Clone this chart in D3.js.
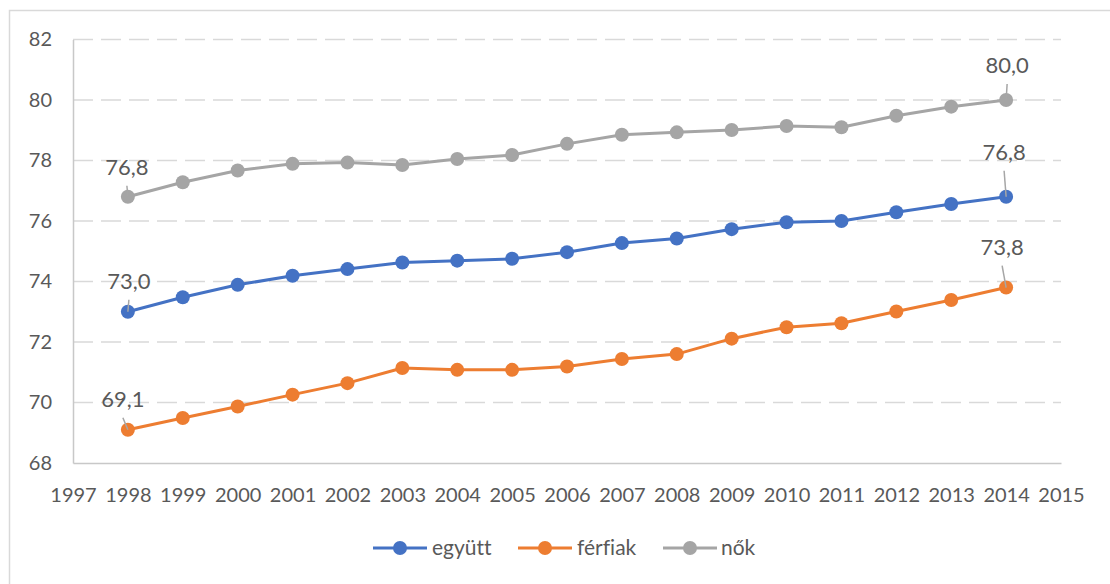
<!DOCTYPE html>
<html>
<head>
<meta charset="utf-8">
<script src="https://cdn.jsdelivr.net/npm/d3@7/dist/d3.min.js"></script>
<style>
  html, body { margin: 0; padding: 0; background: #ffffff; }
  svg { display: block; }
  text { font-family: Lato, "Open Sans", "Noto Sans", sans-serif; fill: #595959; font-variant-ligatures: none; }
</style>
</head>
<body>
<svg id="chart" width="1110" height="584"></svg>
<script>
// Születéskor várható átlagos élettartam, 1998–2014
const years = [1998, 1999, 2000, 2001, 2002, 2003, 2004, 2005, 2006, 2007, 2008, 2009, 2010, 2011, 2012, 2013, 2014];
const egyutt  = [73.0, 73.48, 73.89, 74.19, 74.41, 74.63, 74.69, 74.75, 74.97, 75.27, 75.42, 75.73, 75.96, 76.0, 76.29, 76.56, 76.8];
const ferfiak = [69.1, 69.49, 69.87, 70.26, 70.64, 71.14, 71.08, 71.08, 71.19, 71.44, 71.6, 72.11, 72.49, 72.62, 73.01, 73.39, 73.8];
const nok     = [76.8, 77.28, 77.67, 77.89, 77.93, 77.85, 78.05, 78.18, 78.55, 78.85, 78.93, 79.01, 79.14, 79.1, 79.48, 79.78, 80.0];
const seriesNames = ["együtt", "férfiak", "nők"];
const seriesColors = ["#4472C4", "#ED7D31", "#A5A5A5"];
const yTicks = [68, 70, 72, 74, 76, 78, 80, 82];
const xTicks = [1997, 1998, 1999, 2000, 2001, 2002, 2003, 2004, 2005, 2006, 2007, 2008, 2009, 2010, 2011, 2012, 2013, 2014, 2015];

const series = [egyutt, ferfiak, nok].map((vals, i) => ({
  name: seriesNames[i],
  color: seriesColors[i],
  points: years.map((y, j) => ({ year: y, value: vals[j] }))
}));

// Data labels: first and last point of each series, with label offsets
const labelOffsets = [
  { s: 0, idx: 0,  dx: 1,  dy: -23 },
  { s: 1, idx: 0,  dx: -5, dy: -23 },
  { s: 2, idx: 0,  dx: -1, dy: -22 },
  { s: 0, idx: 16, dx: -2, dy: -37 },
  { s: 1, idx: 16, dx: -4, dy: -33 },
  { s: 2, idx: 16, dx: 1,  dy: -27 }
];

const svg = d3.select("#chart");

// Outer chart border
svg.append("rect")
  .attr("x", 9.5).attr("y", 10.5)
  .attr("width", 1200).attr("height", 700)
  .attr("fill", "none").attr("stroke", "#d9d9d9").attr("stroke-width", 1.5);

const x = d3.scaleLinear().domain([1997, 2015]).range([73, 1061]);
const y = d3.scaleLinear().domain([68, 82]).range([463, 39.5]);

// Horizontal dashed gridlines
svg.append("g").selectAll("line")
  .data(yTicks.filter(t => t !== 68))
  .join("line")
  .attr("x1", x(1997)).attr("x2", x(2015))
  .attr("y1", d => y(d)).attr("y2", d => y(d))
  .attr("stroke", "#d9d9d9").attr("stroke-width", 1.6)
  .attr("stroke-dasharray", "20,8");

// Y axis
const yAxis = svg.append("g")
  .attr("transform", `translate(${x(1997)},0)`)
  .call(d3.axisLeft(y).tickValues(yTicks).tickSize(0).tickPadding(21).tickFormat(d3.format("d")));
yAxis.select(".domain").attr("stroke", "#c8c8c8").attr("stroke-width", 1.5);
yAxis.selectAll("text").attr("font-size", 20).attr("fill", "#595959")
  .style("font-family", "Lato, 'Open Sans', sans-serif");

// X axis
const xAxis = svg.append("g")
  .attr("transform", `translate(0,${y(68)})`)
  .call(d3.axisBottom(x).tickValues(xTicks).tickSize(0).tickPadding(25).tickFormat(d3.format("d")));
xAxis.select(".domain").attr("stroke", "#c8c8c8").attr("stroke-width", 1.5);
xAxis.selectAll("text").attr("font-size", 20).attr("fill", "#595959")
  .style("font-family", "Lato, 'Open Sans', sans-serif");

// Lines and markers
const line = d3.line().x(d => x(d.year)).y(d => y(d.value));
const gSeries = svg.append("g");
series.forEach(s => {
  gSeries.append("path")
    .datum(s.points)
    .attr("d", line)
    .attr("fill", "none")
    .attr("stroke", s.color)
    .attr("stroke-width", 3)
    .attr("stroke-linejoin", "round");
  gSeries.append("g").selectAll("circle")
    .data(s.points)
    .join("circle")
    .attr("cx", d => x(d.year))
    .attr("cy", d => y(d.value))
    .attr("r", 7)
    .attr("fill", s.color);
});

// Data labels with leader lines
const fmt = v => d3.format(".1f")(v).replace(".", ",");
const gLabels = svg.append("g");
labelOffsets.forEach(o => {
  const p = series[o.s].points[o.idx];
  const px = x(p.year), py = y(p.value);
  const lx = px + o.dx, ly = py + o.dy;
  gLabels.append("line")
    .attr("x1", lx).attr("y1", ly + 11)
    .attr("x2", px).attr("y2", py)
    .attr("stroke", "#a6a6a6").attr("stroke-width", 1.5);
  gLabels.append("text")
    .attr("x", lx).attr("y", ly)
    .attr("text-anchor", "middle")
    .attr("font-size", 22)
    .attr("fill", "#404040")
    .text(fmt(p.value));
});

// Legend
const legendItems = [
  { x: 373, tx: 432 },
  { x: 518, tx: 577 },
  { x: 663, tx: 721 }
];
const gLegend = svg.append("g");
series.forEach((s, i) => {
  const li = legendItems[i];
  gLegend.append("line")
    .attr("x1", li.x).attr("x2", li.x + 54)
    .attr("y1", 548).attr("y2", 548)
    .attr("stroke", s.color).attr("stroke-width", 3);
  gLegend.append("circle")
    .attr("cx", li.x + 27).attr("cy", 548).attr("r", 7)
    .attr("fill", s.color);
  gLegend.append("text")
    .attr("x", li.tx).attr("y", 548)
    .attr("dy", "0.35em")
    .attr("font-size", 21)
    .text(s.name);
});
</script>
</body>
</html>
